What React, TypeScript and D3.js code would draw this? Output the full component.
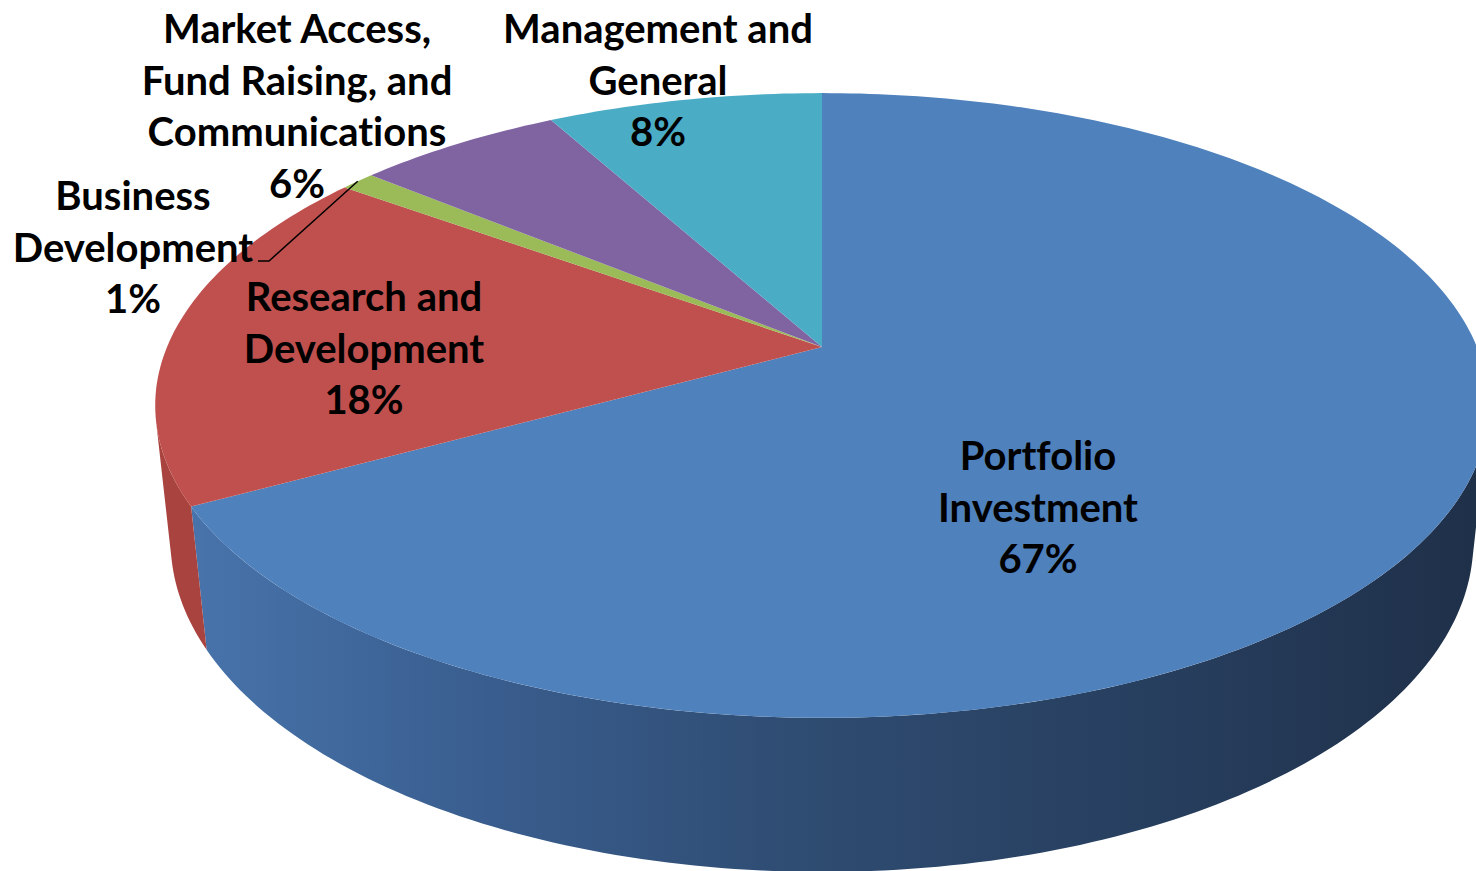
import React from "react";
import * as d3 from "d3";

// slices, clockwise from 12 o'clock
const categories = [
  "Portfolio Investment",
  "Research and Development",
  "Business Development",
  "Market Access, Fund Raising, and Communications",
  "Management and General",
];
const values = [67, 18, 1, 6, 8];
const labelLines = [
  ["Portfolio", "Investment"],
  ["Research and", "Development"],
  ["Business", "Development"],
  ["Market Access,", "Fund Raising, and", "Communications"],
  ["Management and", "General"],
];
const topColors = ["#4f81bd", "#c0504d", "#9bbb59", "#8064a2", "#4bacc6"];
const sideColors = ["url(#blueSide)", "#a9433f", "#7f9a48", "#684f86", "#3b8ea5"];

// label anchor (center x, first baseline y)
const labelAnchors: [number, number][] = [
  [1038, 470],
  [364, 311],
  [133, 210],
  [297, 43],
  [658, 43],
];

const W = 1476;
const H = 871;

// perspective camera for the 3D disc
const cx = 822;
const cy = 347;
const tilt = (27.4 * Math.PI) / 180;
const sinT = Math.sin(tilt);
const cosT = Math.cos(tilt);
const dist = 4.742;
const focal = 3106;
const thick = 0.236;

function project(phi: number, r: number, y: number): [number, number] {
  const X = r * Math.sin(phi);
  const Z = -r * Math.cos(phi);
  const d = dist - y * sinT - Z * cosT;
  const uy = y * cosT - Z * sinT;
  return [cx + (focal * X) / d, cy - (focal * uy) / d];
}

// side wall faces camera where cos(phi) < -1/(D cos t)
const visLimit = Math.acos(-1 / (dist * cosT));
const visMin = visLimit;
const visMax = 2 * Math.PI - visLimit;

function arcPoints(a0: number, a1: number, y: number) {
  const n = Math.max(2, Math.ceil(((a1 - a0) * 180) / Math.PI));
  const pts: [number, number][] = [];
  for (let i = 0; i <= n; i++) pts.push(project(a0 + ((a1 - a0) * i) / n, 1, y));
  return pts;
}

const line = d3.line();

export default function App() {
  const pie = d3.pie<number>().sort(null).value((d) => d);
  const arcs = pie(values);
  const total = d3.sum(values);
  const pct = (v: number) => Math.round((v / total) * 100) + "%";

  const sides = arcs.map((a, i) => {
    const s = Math.max(a.startAngle, visMin);
    const e = Math.min(a.endAngle, visMax);
    if (e <= s) return null;
    const top = arcPoints(s, e, 0);
    const bottom = arcPoints(s, e, -thick).reverse();
    return <path key={"s" + i} d={line([...top, ...bottom])! + "Z"} fill={sideColors[i]} />;
  });

  const tops = arcs.map((a, i) => {
    const pts = [project(0, 0, 0), ...arcPoints(a.startAngle, a.endAngle, 0)];
    return <path key={"t" + i} d={line(pts)! + "Z"} fill={topColors[i]} />;
  });

  // leader line for the small Business Development slice
  const bd = arcs[2];
  const tip = project((bd.startAngle + bd.endAngle) / 2, 1, 0);
  const leader: [number, number][] = [[258, 261], [269, 261], tip];

  return (
    <svg
      width={W}
      height={H}
      style={{ position: "absolute", left: 0, top: 0, background: "#fff" }}
    >
      <defs>
        <linearGradient id="blueSide" gradientUnits="userSpaceOnUse" x1={160} y1={0} x2={1476} y2={0}>
          <stop offset="0" stopColor="#4976ae" />
          <stop offset="0.25" stopColor="#395d8e" />
          <stop offset="0.5" stopColor="#2e4b70" />
          <stop offset="0.75" stopColor="#273f5f" />
          <stop offset="1" stopColor="#1f3049" />
        </linearGradient>
      </defs>
      <g>{sides}</g>
      <g>{tops}</g>
      <path d={line(leader)!} fill="none" stroke="#000" strokeWidth={1.5} />
      <g
        fontFamily="Lato, 'Open Sans', sans-serif"
        fontWeight={700}
        fontSize={40}
        fill="#000"
        textAnchor="middle"
        style={{ fontVariantLigatures: "none", fontFeatureSettings: '"liga" 0' }}
      >
        {categories.map((c, i) => {
          const [x, y] = labelAnchors[i];
          const lines = [...labelLines[i], pct(values[i])];
          return (
            <text key={c} x={x} y={y}>
              {lines.map((t, j) => (
                <tspan key={j} x={x} y={y + j * 51.5}>
                  {t}
                </tspan>
              ))}
            </text>
          );
        })}
      </g>
    </svg>
  );
}
